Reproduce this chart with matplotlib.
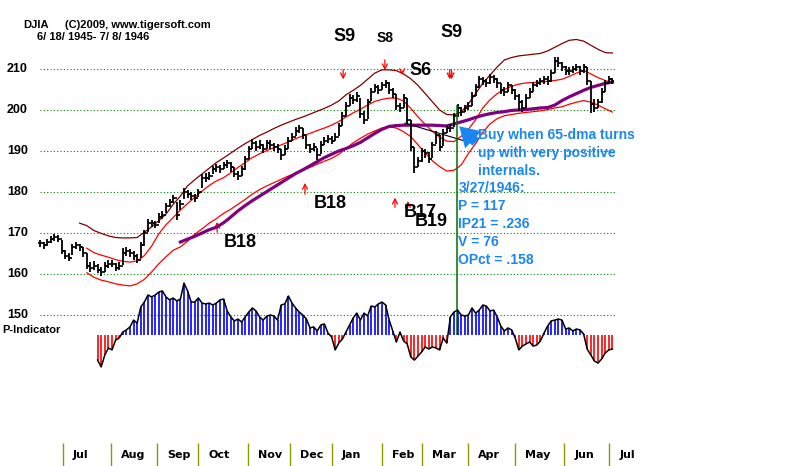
import matplotlib
matplotlib.use("Agg")
import matplotlib.pyplot as plt
import matplotlib.transforms as mtransforms
import numpy as np

# DJIA bars (half-resolution, one bar every other session) 6/18/1945 - 7/8/1946
close = [167.5, 167.0, 167.8, 168.5, 169.0, 168.5, 165.5, 164.5, 164.0, 166.5,
         167.0, 166.5, 165.0, 162.0, 161.5, 162.0, 161.0, 160.5, 162.0, 162.5,
         162.5, 161.5, 162.0, 165.0, 165.5, 165.0, 164.5, 163.5, 167.0, 170.0,
         172.5, 172.5, 172.0, 174.0, 174.5, 176.5, 177.5, 178.5, 174.5, 177.0,
         180.0, 179.5, 179.0, 178.5, 180.0, 183.5, 183.5, 184.0, 185.5, 186.0,
         185.5, 186.5, 187.0, 186.0, 184.5, 184.0, 185.5, 188.0, 190.5, 192.0,
         191.0, 191.5, 190.5, 192.0, 191.5, 191.0, 190.5, 189.0, 190.5, 192.5,
         193.5, 195.0, 195.5, 194.0, 191.5, 190.5, 191.0, 189.0, 191.5, 192.5,
         193.0, 192.5, 193.5, 196.0, 198.5, 201.0, 203.0, 202.5, 203.5, 199.0,
         197.5, 202.0, 204.5, 205.5, 205.0, 206.0, 206.5, 205.0, 204.0, 201.0,
         200.5, 203.0, 197.5, 191.0, 186.0, 187.5, 190.0, 189.5, 188.0, 191.5,
         194.0, 191.0, 194.5, 195.5, 195.5, 198.5, 200.5, 199.5, 200.5, 201.0,
         203.5, 205.5, 207.5, 207.0, 206.5, 208.0, 207.5, 206.5, 205.0, 204.5,
         206.0, 205.0, 203.5, 202.0, 200.5, 203.0, 204.5, 206.0, 206.5, 207.0,
         207.5, 207.0, 209.0, 212.0, 211.5, 210.5, 209.5, 209.5, 210.0, 210.5,
         209.5, 210.5, 207.0, 201.5, 200.5, 202.0, 204.5, 206.5, 207.5, 207.0]
high = [168.3, 167.9, 168.5, 169.3, 169.8, 169.5, 168.2, 165.8, 165.0, 167.3,
        167.8, 167.4, 166.6, 165.2, 163.0, 163.1, 162.4, 161.8, 163.0, 163.4,
        163.5, 162.7, 162.9, 166.4, 166.6, 166.2, 165.6, 164.8, 167.8, 170.8,
        173.4, 173.2, 173.0, 174.8, 175.4, 177.3, 178.3, 179.2, 177.6, 178.0,
        181.0, 180.4, 180.0, 179.6, 180.8, 184.4, 184.6, 185.0, 186.4, 186.8,
        186.6, 187.4, 187.8, 187.3, 186.2, 185.1, 186.3, 188.9, 191.3, 192.9,
        192.4, 192.6, 191.8, 192.8, 192.7, 192.0, 191.6, 190.6, 191.4, 193.4,
        194.3, 195.8, 196.4, 195.6, 194.0, 191.8, 192.0, 190.8, 192.4, 193.3,
        193.8, 193.6, 194.3, 196.8, 199.4, 201.9, 203.8, 203.6, 204.3, 203.0,
        199.8, 202.8, 205.3, 206.3, 206.2, 206.8, 207.3, 206.8, 205.4, 204.0,
        201.8, 203.8, 203.0, 197.6, 191.0, 188.6, 190.8, 190.6, 189.8, 192.3,
        194.8, 194.0, 195.3, 196.3, 196.5, 199.3, 201.4, 200.8, 201.3, 201.9,
        204.4, 206.3, 208.3, 208.1, 207.6, 208.8, 208.6, 207.8, 206.6, 205.6,
        206.8, 206.2, 205.2, 203.8, 202.4, 203.8, 205.3, 206.8, 207.4, 207.8,
        208.4, 208.2, 209.8, 212.9, 213.0, 211.8, 210.8, 210.5, 210.8, 211.3,
        210.8, 211.2, 210.4, 207.0, 202.8, 202.8, 205.3, 207.3, 208.3, 207.9]
low = [166.6, 166.2, 166.9, 167.6, 168.1, 167.8, 164.8, 163.6, 163.1, 164.6,
       166.0, 165.6, 164.1, 161.1, 160.6, 161.0, 160.2, 159.5, 160.6, 161.5,
       161.6, 160.7, 161.0, 162.3, 164.4, 164.1, 163.5, 162.6, 163.8, 166.8,
       170.2, 171.5, 171.1, 172.4, 173.5, 174.8, 176.4, 177.3, 173.2, 175.5,
       178.2, 178.6, 178.0, 177.6, 178.8, 181.0, 182.5, 183.0, 184.3, 185.0,
       184.6, 185.5, 185.8, 185.0, 183.6, 183.0, 184.0, 185.4, 188.0, 190.6,
       190.0, 190.5, 189.6, 190.6, 190.6, 190.0, 189.4, 187.8, 189.0, 190.6,
       192.4, 193.6, 194.4, 193.0, 190.5, 189.6, 190.0, 187.8, 189.2, 191.4,
       192.0, 191.6, 192.4, 193.6, 196.0, 198.6, 201.0, 201.4, 202.0, 198.0,
       196.6, 197.8, 202.2, 204.3, 204.0, 204.8, 205.4, 204.0, 203.0, 200.0,
       199.6, 200.6, 196.5, 190.0, 184.6, 186.0, 187.2, 188.4, 187.0, 188.2,
       191.6, 190.0, 191.2, 194.4, 194.6, 195.8, 198.4, 198.6, 199.4, 200.0,
       201.0, 203.4, 205.4, 206.0, 205.5, 206.4, 206.5, 205.4, 204.0, 203.5,
       204.5, 204.0, 202.5, 199.8, 199.6, 200.6, 203.0, 204.5, 205.5, 206.0,
       206.4, 206.0, 206.9, 209.0, 210.4, 209.6, 208.5, 208.6, 209.0, 209.5,
       208.6, 209.0, 206.0, 199.3, 199.6, 200.5, 201.8, 204.4, 206.5, 206.3]

# bands, sampled every second bar starting at bar 11
band_upper = [172.4, 171.8, 170.6, 169.9, 169.3, 168.9, 168.8, 168.8, 168.9, 170.2,
              171.5, 173.0, 174.6, 177.0, 179.0, 181.5, 183.0, 184.4, 185.8, 187.2,
              188.3, 189.5, 190.7, 191.8, 192.8, 193.8, 194.6, 195.5, 196.3, 197.0,
              197.7, 198.3, 199.0, 199.7, 200.4, 201.2, 202.2, 203.7, 204.8, 206.0,
              207.5, 209.0, 209.8, 209.8, 209.6, 208.8, 207.6, 206.0, 204.0, 202.0,
              200.0, 198.9, 198.8, 199.5, 201.5, 204.0, 206.5, 208.5, 210.5, 212.2,
              212.8, 213.2, 213.4, 213.6, 213.8, 214.4, 215.3, 216.2, 217.0, 217.2,
              216.8, 215.8, 214.8, 214.0, 213.9]
band_mid = [np.nan, 166.3, 165.2, 164.6, 164.1, 163.5, 163.1, 162.9, 163.2, 164.5,
            166.8, 169.8, 172.0, 173.8, 175.6, 177.2, 178.7, 180.2, 181.6, 182.7,
            183.5, 184.7, 186.0, 187.2, 188.4, 189.3, 190.1, 190.8, 191.5, 192.2,
            193.0, 193.7, 194.3, 195.0, 195.6, 196.3, 197.2, 198.3, 199.3, 200.2,
            201.2, 202.1, 202.6, 202.9, 202.9, 202.2, 200.4, 198.3, 196.5, 194.8,
            193.4, 192.4, 192.3, 193.6, 195.3, 197.6, 200.5, 202.5, 204.0, 205.0,
            205.8, 206.3, 206.6, 206.7, 206.8, 207.0, 207.2, 207.5, 208.2, 209.0,
            209.7, 208.8, 207.9, 207.2, 206.6]
band_lower = [np.nan, 160.3, 159.2, 158.5, 158.1, 157.6, 157.3, 157.1, 157.6, 158.7,
              160.5, 162.5, 164.2, 165.8, 166.6, 168.0, 169.7, 171.0, 172.4, 173.5,
              174.8, 175.8, 177.0, 178.2, 179.5, 180.6, 181.5, 182.3, 183.1, 183.9,
              184.6, 185.3, 186.0, 186.8, 187.5, 188.2, 189.2, 190.6, 192.0, 193.1,
              194.1, 194.9, 195.6, 195.9, 195.6, 194.7, 193.5, 191.5, 189.5, 187.6,
              186.2, 185.1, 185.3, 186.6, 189.4, 191.8, 194.6, 196.6, 197.9, 198.6,
              198.9, 199.2, 199.4, 199.6, 199.8, 200.1, 200.5, 200.8, 201.4, 201.9,
              202.3, 201.9, 201.2, 200.3, 199.5]
dma65 = [np.nan] * 14 + [
    167.8, 168.5, 169.2, 170.0, 170.8, 171.4, 172.5, 173.9, 175.4, 176.7,
    177.9, 179.0, 180.1, 181.2, 182.3, 183.4, 184.5, 185.4, 186.4, 187.4,
    188.4, 189.2, 190.0, 190.6, 191.3, 192.1, 193.2, 194.3, 195.3, 196.0,
    196.2, 196.3, 196.3, 196.3, 196.3, 196.3, 196.2, 196.1, 196.6, 197.1,
    197.6, 198.2, 198.7, 199.1, 199.4, 199.6, 199.9, 200.0, 200.1, 200.3,
    200.5, 200.6, 201.2, 202.3, 203.2, 204.0, 204.8, 205.5, 206.0, 206.5,
    206.8]

# P-Indicator, from bar 16 on
p_ind = [-118, -150, -94, -61, -70, -24, -14, 14, 24, 38,
         70, 56, 132, 155, 188, 179, 188, 202, 207, 179,
         165, 174, 160, 169, 244, 207, 155, 155, 174, 150,
         146, 150, 141, 150, 165, 169, 113, 85, 66, 75,
         61, 85, 108, 127, 113, 85, 70, 89, 94, 89,
         70, 141, 146, 183, 150, 127, 108, 94, 75, 33,
         38, 19, 47, 52, 9, -9, -70, -38, -19, 14,
         47, 80, 103, 70, 103, 89, 136, 132, 146, 155,
         141, 70, 19, -33, 14, -28, -42, -103, -118, -99,
         -80, -56, -66, -56, -61, -70, -14, -38, 85, 108,
         117, 94, 89, 94, 127, 103, 117, 141, 136, 113,
         117, 85, 42, 19, 33, 24, -14, -70, -52, -42,
         -33, -52, -47, -28, 9, 42, 66, 70, 75, 70,
         28, 33, 19, 28, 24, 5, -66, -94, -122, -132,
         -113, -85, -70, -66]

grid_levels = [150, 160, 170, 180, 190, 200, 210]
months = ["Jul", "Aug", "Sep", "Oct", "Nov", "Dec", "Jan", "Feb", "Mar", "Apr", "May", "Jun", "Jul"]
month_start = [6.4, 19.7, 32.5, 43.9, 57.8, 69.4, 81.1, 95.0, 106.1, 118.9, 131.9, 145.6, 158.1]

signal_bar = 115.8  # 3/27/1946
signal_lines = ["3/27/1946:", "P = 117", "IP21 = .236", "V = 76", "OPct = .158"]

# (label, bar, price, fontsize)
labels = [("S9", 84.7, 218.0, 13), ("S8", 95.8, 217.6, 10), ("S6", 105.6, 209.6, 13),
          ("S9", 114.4, 218.8, 13), ("B18", 55.6, 167.6, 13), ("B18", 80.6, 177.3, 13),
          ("B17", 105.6, 175.1, 13), ("B19", 108.6, 172.7, 13)]
sell_arrows = [(84.2, 210.5, 206.8), (95.8, 212.9, 209.0), (100.6, 210.2, 207.8),
               (113.8, 210.5, 206.8), (114.3, 210.5, 206.8)]
buy_arrows = [(49.2, 169.5, 173.4), (73.6, 178.8, 182.9), (98.6, 175.6, 179.3),
              (102.2, 175.6, 178.5)]

n = len(close)
x = np.arange(n)
band_x = np.arange(11, n, 2)
p_x = np.arange(16, n)
p_arr = np.array(p_ind)

BLUE_TXT = "#1a86f0"

fig = plt.figure(figsize=(8, 4.66), dpi=100)
fig.patch.set_facecolor("white")
ax = fig.add_axes([0, 0, 1, 1])
ax.set_xlim(-11.11, 211.11)
ax.set_ylim(113.17, 226.83)
ax.axis("off")

axp = fig.add_axes([0, 0, 1, 1])
axp.set_xlim(-11.11, 211.11)
axp.set_ylim(-615.7, 1574.5)
axp.axis("off")
axp.patch.set_alpha(0)

# grid
ax.hlines(grid_levels, 0, n - 0.3, colors="#008000", linestyles=(0, (1, 2)), linewidth=0.8, zorder=1)
ylab_tr = mtransforms.blended_transform_factory(fig.transFigure, ax.transData)
for g in grid_levels:
    ax.text(7 / 800, g, str(g), transform=ylab_tr, ha="left", va="center",
            fontsize=9, fontweight="bold", family="Liberation Sans")

# P-Indicator histogram
pos = p_arr >= 0
axp.vlines(p_x[pos], 0, p_arr[pos], colors="#0000ff", linewidth=1.2, zorder=2)
axp.vlines(p_x[~pos], 0, p_arr[~pos], colors="#ff0000", linewidth=1.2, zorder=2)
axp.plot(p_x, p_arr, color="black", linewidth=1.1, zorder=3)

# bands and 65-dma
ax.plot(band_x, band_upper, color="#800000", linewidth=0.9, zorder=3)
ax.plot(band_x, band_mid, color="#ff0000", linewidth=0.9, zorder=3)
ax.plot(band_x, band_lower, color="#ff0000", linewidth=0.9, zorder=3)
ax.plot(band_x, dma65, color="#800080", linewidth=2.3, zorder=4)

# OHLC bars, left tick = prior close
opens = [close[0]] + close[:-1]
ax.vlines(x, low, high, colors="black", linewidth=1.3, zorder=5)
ax.hlines(close, x, x + 0.55, colors="black", linewidth=1.2, zorder=5)
ax.hlines(opens, x - 0.55, x, colors="black", linewidth=1.2, zorder=5)

# trend line and signal line
ax.plot([101.4, 118.9], [196.8, 192.2], color="black", linewidth=0.8, zorder=5)
ax.vlines(signal_bar, 145.1, 201.2, colors="#007000", linewidth=1.1, zorder=6)

# signals
for bx, y0, y1 in sell_arrows + buy_arrows:
    ax.annotate("", xy=(bx, y1), xytext=(bx, y0),
                arrowprops=dict(arrowstyle="->", color="red", lw=0.9, mutation_scale=9))
for txt, bx, py, fs in labels:
    ax.text(bx, py, txt, ha="center", va="center", fontsize=fs, fontweight="bold",
            family="Liberation Sans", zorder=7)

# buy note
ax.annotate("", xy=(115.9, 196.5), xytext=(121.6, 191.7),
            arrowprops=dict(arrowstyle="simple,head_length=0.7,head_width=0.85,tail_width=0.35",
                            color=BLUE_TXT, lw=0, mutation_scale=20), zorder=7)
note = ["Buy when 65-dma turns", "up with very positive", "internals."]
for k, line in enumerate(note):
    ax.text(121.7, 193.9 - 4.4 * k, line, ha="left", va="center", fontsize=10,
            fontweight="bold", color=BLUE_TXT, family="Liberation Sans", zorder=7)
for k, line in enumerate(signal_lines):
    ax.text(116.2, 181.0 - 4.4 * k, line, ha="left", va="center", fontsize=10,
            fontweight="bold", color=BLUE_TXT, family="Liberation Sans", zorder=7)

# header
fig.text(23 / 800, 1 - 25.5 / 466, "DJIA", fontsize=8, fontweight="bold",
         family="Liberation Sans", va="center")
fig.text(65 / 800, 1 - 25.5 / 466, "(C)2009, www.tigersoft.com", fontsize=8,
         fontweight="bold", family="Liberation Sans", va="center")
fig.text(37 / 800, 1 - 37 / 466, "6/ 18/ 1945- 7/ 8/ 1946", fontsize=8,
         fontweight="bold", family="Liberation Sans", va="center")
fig.text(2 / 800, 1 - 330 / 466, "P-Indicator", fontsize=8, fontweight="bold",
         family="Liberation Sans", va="center")

# month axis
ax.vlines(month_start, 113.17, 118.8, colors="#8c9900", linewidth=1.0)
for m, xs in zip(months, month_start):
    ax.text(xs + 2.8, 115.85, m, ha="left", va="center", fontsize=8, fontweight="bold",
            family=["Liberation Sans Narrow", "DejaVu Sans"])

fig.savefig("out.png", dpi=100, facecolor="white")
